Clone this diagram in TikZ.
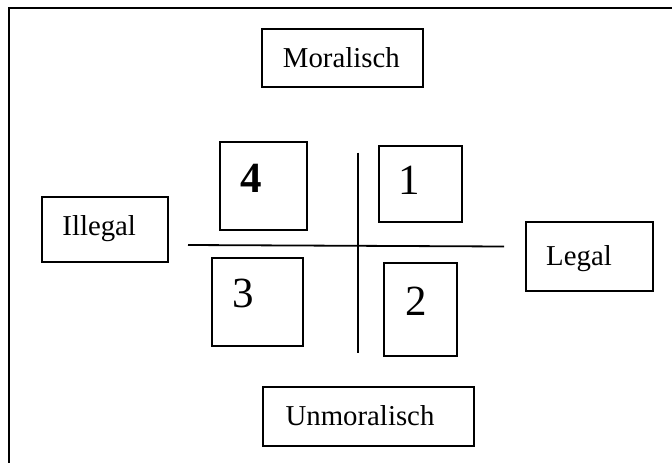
\documentclass[tikz,border=0pt]{standalone}
\usepackage{fontspec}
\setmainfont{Liberation Serif}
\begin{document}
\begin{tikzpicture}[x=1pt,y=-1pt,
  box/.style={draw=black, line width=1.8pt, inner sep=0pt},
  lbl/.style={anchor=base, inner sep=0pt, font=\fontsize{28.8}{32}\selectfont},
  digit/.style={anchor=base, inner sep=0pt, font=\fontsize{43}{46}\selectfont},
  axis/.style={draw=black, line width=1.8pt}]
\useasboundingbox (0,0) rectangle (672,463);
% outer frame (only top and left visible)
\coordinate (fbl) at (9,463);
\coordinate (ftl) at (9,8);
\coordinate (ftr) at (672,8);
\draw[line width=2.4pt] (fbl) -- (ftl) -- (ftr);
% label boxes
\node[box, minimum width=161pt, minimum height=58pt] (mor) at (342.5,58) {};
\node[lbl] (mort) at (341.3,67) {Moralisch};
\node[box, minimum width=126.6pt, minimum height=65pt] (ill) at (105,229.2) {};
\node[lbl] (illt) at (99.2,235) {Illegal};
\node[box, minimum width=127.6pt, minimum height=69pt] (leg) at (589.5,256.2) {};
\node[lbl] (legt) at (579,265) {Legal};
\node[box, minimum width=211pt, minimum height=58.7pt] (unm) at (368.7,416.7) {};
\node[lbl] (unmt) at (360,425) {Unmoralisch};
% quadrant boxes
\node[box, minimum width=86.7pt, minimum height=88.3pt] (q4) at (263.3,185.8) {};
\node[digit, font=\fontsize{43}{46}\selectfont\bfseries] (q4t) at (251,192.7) {4};
\node[box, minimum width=83pt, minimum height=76pt] (q1) at (420.5,183.7) {};
\node[digit] (q1t) at (409.5,194.3) {1};
\node[box, minimum width=91pt, minimum height=88.3pt] (q3) at (257.8,301.8) {};
\node[digit] (q3t) at (243,307.7) {3};
\node[box, minimum width=72.7pt, minimum height=93.3pt] (q2) at (420.3,309.3) {};
\node[digit] (q2t) at (416,315) {2};
% axes
\coordinate (hl) at (188,245);
\coordinate (hr) at (504,246.5);
\coordinate (vt) at (358.3,152.7);
\coordinate (vb) at (358.3,353.3);
\draw[axis] (hl) -- (hr);
\draw[axis] (vt) -- (vb);
\end{tikzpicture}
\end{document}
